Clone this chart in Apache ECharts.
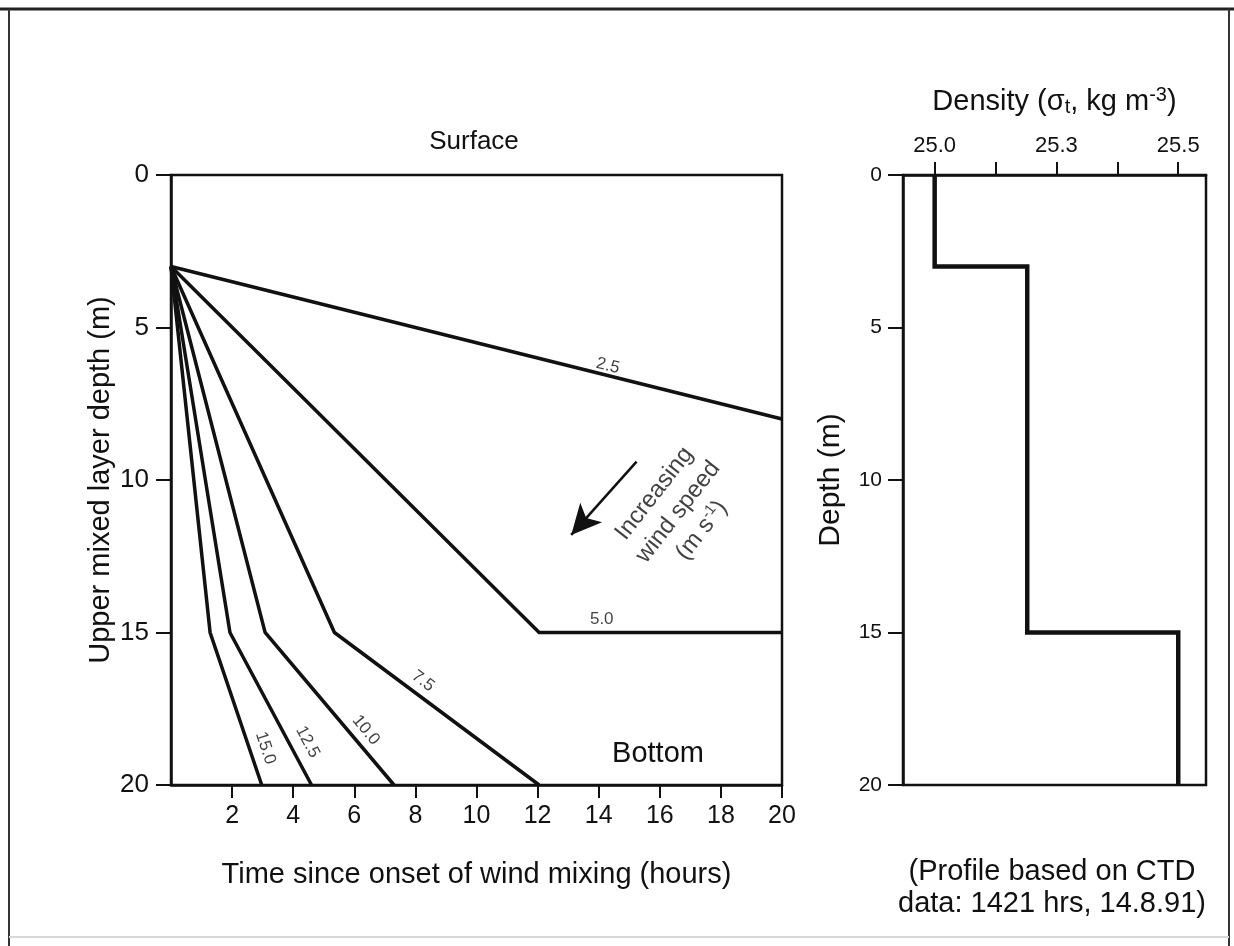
<!DOCTYPE html>
<html><head><meta charset="utf-8">
<script src="https://cdn.jsdelivr.net/npm/echarts@6/dist/echarts.min.js"></script>
<style>html,body{margin:0;padding:0;background:#fff;}#c{width:1234px;height:946px;}</style>
</head><body><div id="c"></div>
<script>
// ---- data ----
const windSpeeds = ['2.5', '5.0', '7.5', '10.0', '12.5', '15.0'];
const time25 = [0, 20];           const depth25 = [3, 8];
const time50 = [0, 12.05, 20];    const depth50 = [3, 15, 15];
const time75 = [0, 5.35, 12.05];  const depth75 = [3, 15, 20];
const time100 = [0, 3.08, 7.3];   const depth100 = [3, 15, 20];
const time125 = [0, 1.93, 4.6];   const depth125 = [3, 15, 20];
const time150 = [0, 1.28, 2.97];  const depth150 = [3, 15, 20];
const timeTickValues = [2, 4, 6, 8, 10, 12, 14, 16, 18, 20];
const depthTickValues = [0, 5, 10, 15, 20];

const profileDensity = [25.0, 25.0, 25.19, 25.19, 25.5, 25.5];
const profileDepth = [0, 3, 3, 15, 15, 20];
const densityTickValues = [25.0, 25.125, 25.25, 25.375, 25.5];
const densityLabelValues = [25.0, 25.25, 25.5];
const densityLabelText = ['25.0', '25.3', '25.5'];

// annotation anchors (data coordinates)
const labelTime = [14.3, 14.1, 8.25, 6.38, 4.47, 3.09];
const labelDepth = [6.26, 14.56, 16.59, 18.2, 18.59, 18.79];
const labelAngle = [-14, 0, -37, -51, -62, -72];
const arrowTail = [15.24, 9.40];
const arrowHead = [13.1, 11.8];
const arrowTextAt = [16.6, 11.05];

// ---- chart ----
const FONT = 'Liberation Sans';
const INK = '#111111';
const pairs = (xs, ys) => xs.map((x, i) => [x, ys[i]]);
const mixing = [
  pairs(time25, depth25), pairs(time50, depth50), pairs(time75, depth75),
  pairs(time100, depth100), pairs(time125, depth125), pairs(time150, depth150)
];

const chart = echarts.init(document.getElementById('c'), null, {renderer: 'canvas'});

const lineSeries = mixing.map((d, i) => ({
  type: 'line', name: windSpeeds[i], xAxisIndex: 0, yAxisIndex: 0,
  data: d, symbol: 'none', silent: true, animation: false,
  lineStyle: {color: INK, width: 3.5, join: 'miter'},
  z: 3
}));
lineSeries[0].markLine = {
  silent: true, animation: false,
  symbol: ['none', 'arrow'], symbolSize: [22, 30],
  lineStyle: {color: INK, width: 2.5, type: 'solid'},
  label: {show: false},
  data: [[{coord: arrowTail}, {coord: arrowHead}]]
};

const axisLineStyle = {onZero: false, lineStyle: {color: INK, width: 2.5}};

const option = {
  backgroundColor: '#ffffff',
  animation: false,
  textStyle: {fontFamily: FONT, color: INK},
  grid: [
    {left: 171, top: 175, width: 611, height: 610, show: true, borderColor: INK, borderWidth: 2.5},
    {left: 903, top: 175, width: 303, height: 610, show: true, borderColor: INK, borderWidth: 2.5}
  ],
  xAxis: [
    {
      gridIndex: 0, type: 'value', min: 0, max: 20, position: 'bottom',
      axisLine: axisLineStyle,
      axisTick: {length: 13, lineStyle: {color: INK, width: 2}, customValues: timeTickValues},
      axisLabel: {fontFamily: FONT, fontSize: 25, color: INK, margin: 19, customValues: timeTickValues},
      splitLine: {show: false},
      name: 'Time since onset of wind mixing (hours)', nameLocation: 'middle', nameGap: 75,
      nameTextStyle: {fontFamily: FONT, fontSize: 29, color: INK}
    },
    {
      gridIndex: 1, type: 'value', min: 24.935, max: 25.557, position: 'top',
      axisLine: axisLineStyle,
      axisTick: {length: 13, lineStyle: {color: INK, width: 2}, customValues: densityTickValues},
      axisLabel: {
        fontFamily: FONT, fontSize: 22, color: INK, margin: 18, customValues: densityLabelValues,
        formatter: v => {
          let best = 0;
          densityLabelValues.forEach((d, i) => { if (Math.abs(d - v) < Math.abs(densityLabelValues[best] - v)) best = i; });
          return densityLabelText[best];
        }
      },
      splitLine: {show: false},
      name: 'Density (σ{sub|t}, kg m{sup|-3})', nameLocation: 'middle', nameGap: 57,
      nameTextStyle: {
        fontFamily: FONT, fontSize: 29, color: INK,
        rich: {
          sub: {fontFamily: FONT, fontSize: 20, color: INK, padding: [12, 0, 0, 0]},
          sup: {fontFamily: FONT, fontSize: 20, color: INK, padding: [0, 0, 13, 0]}
        }
      }
    }
  ],
  yAxis: [
    {
      gridIndex: 0, type: 'value', min: 0, max: 20, interval: 5, inverse: true,
      axisLine: axisLineStyle,
      axisTick: {length: 15, lineStyle: {color: INK, width: 2}, customValues: depthTickValues},
      axisLabel: {fontFamily: FONT, fontSize: 26, color: INK, margin: 22, customValues: depthTickValues},
      splitLine: {show: false},
      name: 'Upper mixed layer depth (m)', nameLocation: 'middle', nameGap: 56,
      nameTextStyle: {fontFamily: FONT, fontSize: 29, color: INK}
    },
    {
      gridIndex: 1, type: 'value', min: 0, max: 20, interval: 5, inverse: true,
      axisLine: axisLineStyle,
      axisTick: {length: 15, lineStyle: {color: INK, width: 2}, customValues: depthTickValues},
      axisLabel: {fontFamily: FONT, fontSize: 21, color: INK, margin: 21, customValues: depthTickValues},
      splitLine: {show: false},
      name: 'Depth (m)', nameLocation: 'middle', nameGap: 57,
      nameTextStyle: {fontFamily: FONT, fontSize: 30, color: INK}
    }
  ],
  series: [
    ...lineSeries,
    {
      type: 'scatter', xAxisIndex: 0, yAxisIndex: 0, symbolSize: 0, silent: true, z: 5,
      data: windSpeeds.map((w, i) => ({
        name: w, value: [labelTime[i], labelDepth[i]],
        label: {rotate: labelAngle[i]}
      })),
      label: {show: true, position: 'inside', formatter: '{b}', fontFamily: FONT, fontSize: 17, color: INK}
    },
    {
      type: 'scatter', xAxisIndex: 0, yAxisIndex: 0, symbolSize: 0, silent: true, z: 5,
      data: [{value: arrowTextAt}],
      label: {
        show: true, position: 'inside', rotate: 52, align: 'center',
        formatter: 'Increasing\nwind speed\n(m s{sup|-1})',
        fontFamily: FONT, fontSize: 24, color: INK, lineHeight: 30,
        rich: {sup: {fontFamily: FONT, fontSize: 15, color: INK, padding: [0, 0, 12, 0]}}
      }
    },
    {
      type: 'line', xAxisIndex: 1, yAxisIndex: 1, silent: true,
      data: pairs(profileDensity, profileDepth), symbol: 'none',
      lineStyle: {color: INK, width: 4.5, join: 'miter'}, z: 3
    }
  ],
  graphic: [
    {type: 'line', shape: {x1: 0, y1: 9, x2: 1234, y2: 9}, style: {stroke: '#222', lineWidth: 3}, silent: true},
    {type: 'line', shape: {x1: 9, y1: 9, x2: 9, y2: 946}, style: {stroke: '#333', lineWidth: 2}, silent: true},
    {type: 'line', shape: {x1: 1229, y1: 9, x2: 1229, y2: 946}, style: {stroke: '#333', lineWidth: 2}, silent: true},
    {type: 'line', shape: {x1: 9, y1: 937, x2: 1229, y2: 937}, style: {stroke: '#d8d8d8', lineWidth: 2}, silent: true},
    {type: 'text', x: 474, y: 142, style: {text: 'Surface', font: '26px "Liberation Sans"', fill: INK, align: 'center', verticalAlign: 'middle'}, silent: true},
    {type: 'text', x: 658, y: 754, style: {text: 'Bottom', font: '29px "Liberation Sans"', fill: INK, align: 'center', verticalAlign: 'middle'}, silent: true},
    {type: 'text', x: 1052, y: 888, style: {text: '(Profile based on CTD\ndata: 1421 hrs, 14.8.91)', font: '29px "Liberation Sans"', fill: INK, align: 'center', verticalAlign: 'middle', lineHeight: 32}, silent: true}
  ]
};
chart.setOption(option);
</script>
</body></html>
